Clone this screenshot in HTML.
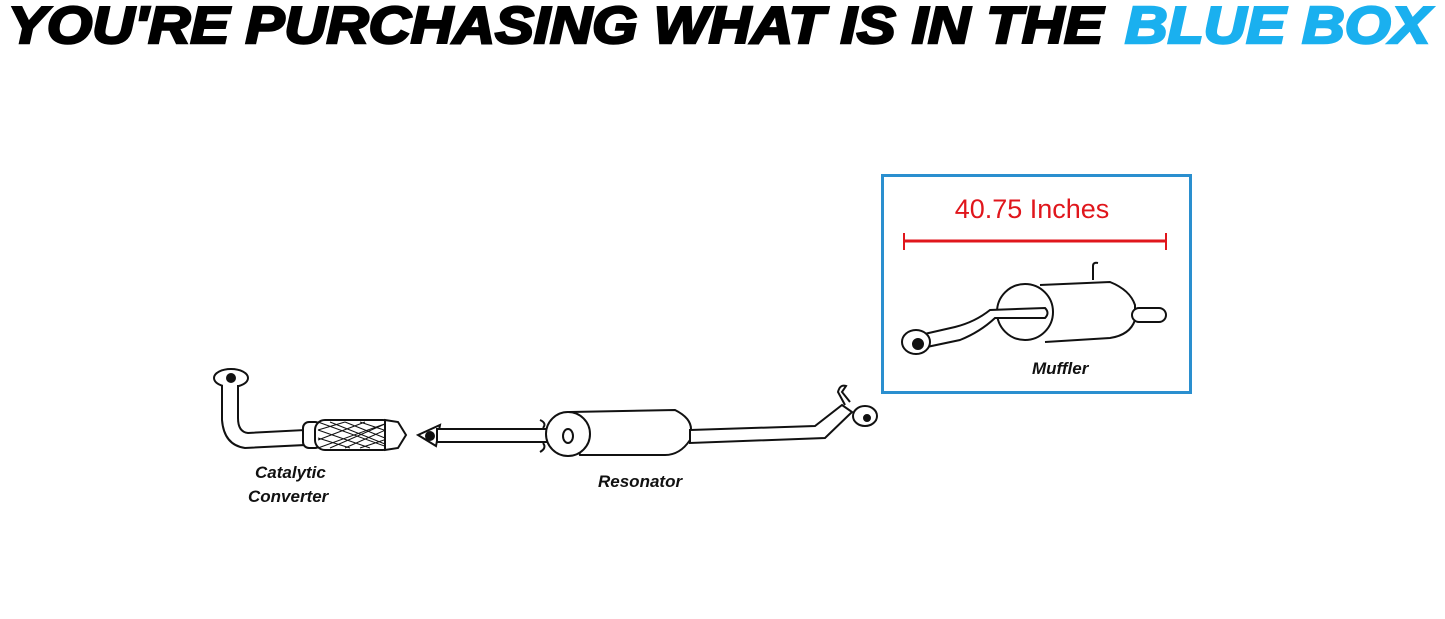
<!DOCTYPE html>
<html><head><style>
html,body{margin:0;padding:0;background:#fff;width:1445px;height:619px;overflow:hidden}
</style></head><body>
<svg width="1445" height="619" viewBox="0 0 1445 619" xmlns="http://www.w3.org/2000/svg">
<rect width="1445" height="619" fill="#fff"/>
<g font-family="Liberation Sans, sans-serif" font-weight="bold" font-style="italic" font-size="52" stroke-width="2.5">
<text x="8" y="43" textLength="1095" lengthAdjust="spacingAndGlyphs" fill="#000" stroke="#000">YOU'RE PURCHASING WHAT IS IN THE</text>
<text x="1125" y="43" textLength="305" lengthAdjust="spacingAndGlyphs" fill="#1ab0ef" stroke="#1ab0ef">BLUE BOX</text>
</g>
<rect x="882.5" y="175.5" width="308" height="217" fill="none" stroke="#2a8fcf" stroke-width="3"/>
<text x="1032" y="218" text-anchor="middle" font-family="Liberation Sans, sans-serif" font-size="27" fill="#e0161c">40.75 Inches</text>
<line x1="904" y1="241" x2="1166" y2="241" stroke="#e0161c" stroke-width="3"/>
<line x1="904" y1="233" x2="904" y2="250" stroke="#e0161c" stroke-width="2"/>
<line x1="1166" y1="233" x2="1166" y2="250" stroke="#e0161c" stroke-width="2"/>
<g fill="#fff" stroke="#111" stroke-width="2">
<path d="M1093 280 L1093 266 Q1093 262 1098 263" fill="none"/>
<path d="M1040 285 L1110 282 Q1130 290 1135 305 L1135 320 Q1130 335 1110 338 L1045 342" />
<ellipse cx="1025" cy="312" rx="28" ry="28"/>
<path d="M920 335 L955 327 Q975 322 990 310 L1045 308 Q1050 313 1045 318 L995 318 Q980 332 960 340 L922 348 Z"/>
<rect x="1132" y="308" width="34" height="14" rx="7"/>
<ellipse cx="916" cy="342" rx="14" ry="12"/>
<circle cx="918" cy="344" r="5" fill="#111"/>
<ellipse cx="231" cy="378" rx="17" ry="9"/>
<circle cx="231" cy="378" r="4" fill="#111"/>
<path d="M222 385 L222 420 Q224 445 245 448 L305 445 L305 430 L248 433 Q238 432 238 418 L238 385" />
<rect x="303" y="422" width="18" height="26" rx="6"/>
<rect x="315" y="420" width="78" height="30" rx="10"/>
<path d="M318 422 L390 448 M330 422 L385 444 M345 422 L390 440 M360 422 L390 432 M318 430 L370 448 M318 438 L350 448 M318 448 L390 422 M330 448 L385 424 M345 448 L390 428 M360 448 L390 438 M318 440 L365 422 M318 430 L345 422" stroke-width="1"/>
<path d="M385 420 L398 422 L406 435 L398 448 L385 450 Z"/>
<path d="M418 435 L440 425 L436 446 Z"/>
<circle cx="430" cy="436" r="4" fill="#111"/>
<rect x="437" y="429" width="135" height="13"/>
<path d="M540 420 Q547 423 543 428 M540 452 Q547 448 543 443" fill="none"/>
<path d="M570 412 L675 410 Q695 420 690 435 L690 440 Q680 455 665 455 L580 455 Z"/>
<ellipse cx="568" cy="434" rx="22" ry="22"/>
<ellipse cx="568" cy="436" rx="5" ry="7"/>
<path d="M690 430 L815 426 L842 405 L852 412 L825 438 L690 443 Z"/>
<ellipse cx="865" cy="416" rx="12" ry="10"/>
<circle cx="867" cy="418" r="3" fill="#111"/>
<path d="M845 405 L838 392 Q840 384 846 386 L842 392 L850 402" fill="none"/>
</g>
<g font-family="Liberation Sans, sans-serif" font-weight="bold" font-style="italic" font-size="17" fill="#111">
<text x="255" y="478">Catalytic</text>
<text x="248" y="502">Converter</text>
<text x="598" y="487">Resonator</text>
<text x="1032" y="374">Muffler</text>
</g>
</svg>
</body></html>
